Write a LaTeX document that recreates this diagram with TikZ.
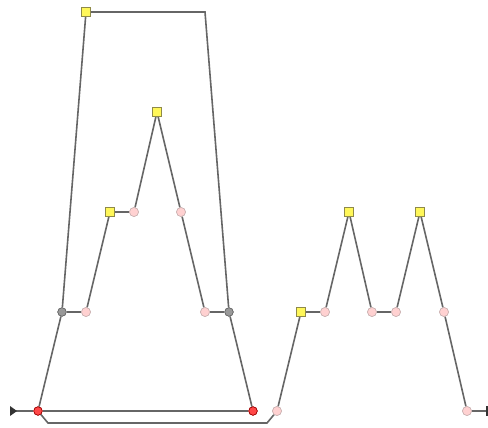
\documentclass[tikz,border=0pt]{standalone}
\begin{document}
\begin{tikzpicture}[x=1pt,y=-1pt,
  wire/.style={draw=black!60,line width=1.6pt},
  rednode/.style={circle,draw=red!60!black,fill=red!72!white,minimum size=8.5pt,inner sep=0pt,line width=0.6pt},
  pinknode/.style={circle,draw=red!30!black!30,fill=red!18!white,minimum size=9pt,inner sep=0pt,line width=0.6pt},
  graynode/.style={circle,draw=black!60,fill=black!40,minimum size=8.5pt,inner sep=0pt,line width=0.6pt},
  yelnode/.style={rectangle,draw=yellow!50!black,fill=yellow!65!white,minimum size=9pt,inner sep=0pt,line width=0.6pt}]
\useasboundingbox (0,0) rectangle (488,428);
% nodes
\coordinate (st) at (16,411);
\coordinate (en) at (486,411);
\node[rednode] (r1) at (38,411) {};
\node[rednode] (r2) at (253,411) {};
\node[graynode] (g1) at (62,312) {};
\node[graynode] (g2) at (229,312) {};
\node[pinknode] (p1) at (86,312) {};
\node[pinknode] (p2) at (205,312) {};
\node[yelnode] (y1) at (86,12) {};
\coordinate (c1) at (205,12);
\node[yelnode] (y2) at (110,212) {};
\node[pinknode] (p3) at (134,212) {};
\node[yelnode] (y3) at (157,112) {};
\node[pinknode] (p4) at (181,212) {};
\node[pinknode] (p5) at (277,411) {};
\node[yelnode] (y4) at (301,312) {};
\node[pinknode] (p6) at (325,312) {};
\node[yelnode] (y5) at (349,212) {};
\node[pinknode] (p7) at (372,312) {};
\node[pinknode] (p8) at (396,312) {};
\node[yelnode] (y6) at (420,212) {};
\node[pinknode] (p9) at (444,312) {};
\node[pinknode] (p10) at (467,411) {};
\coordinate (l1) at (48,423);
\coordinate (l2) at (267,423);
% connectors
\draw[wire] (st) -- (r1);
\draw[wire] (r1) -- (r2);
\draw[wire] (r1) -- (g1);
\draw[wire] (g2) -- (r2);
\draw[wire] (g1) -- (p1);
\draw[wire] (g2) -- (p2);
\draw[wire] (g1) -- (y1);
\draw[wire] (y1) -- (c1) -- (g2);
\draw[wire] (p1) -- (y2);
\draw[wire] (y2) -- (p3);
\draw[wire] (p3) -- (y3);
\draw[wire] (y3) -- (p4);
\draw[wire] (p4) -- (p2);
\draw[wire] (r1) -- (l1) -- (l2) -- (p5);
\draw[wire] (p5) -- (y4);
\draw[wire] (y4) -- (p6);
\draw[wire] (p6) -- (y5);
\draw[wire] (y5) -- (p7);
\draw[wire] (p7) -- (p8);
\draw[wire] (p8) -- (y6);
\draw[wire] (y6) -- (p9);
\draw[wire] (p9) -- (p10);
\draw[wire] (p10) -- (en);
% end markers
\fill[black!80] (10,406) -- (17,411) -- (10,416) -- cycle;
\draw[black!80,line width=1.2pt] (487,406) -- (487,416);
% redraw nodes on top
\foreach \n/\s in {r1/rednode,r2/rednode,g1/graynode,g2/graynode}{\node[\s] at (\n) {};}
\foreach \n in {p1,p2,p3,p4,p5,p6,p7,p8,p9,p10}{\node[pinknode] at (\n) {};}
\foreach \n in {y1,y2,y3,y4,y5,y6}{\node[yelnode] at (\n) {};}
\end{tikzpicture}
\end{document}
